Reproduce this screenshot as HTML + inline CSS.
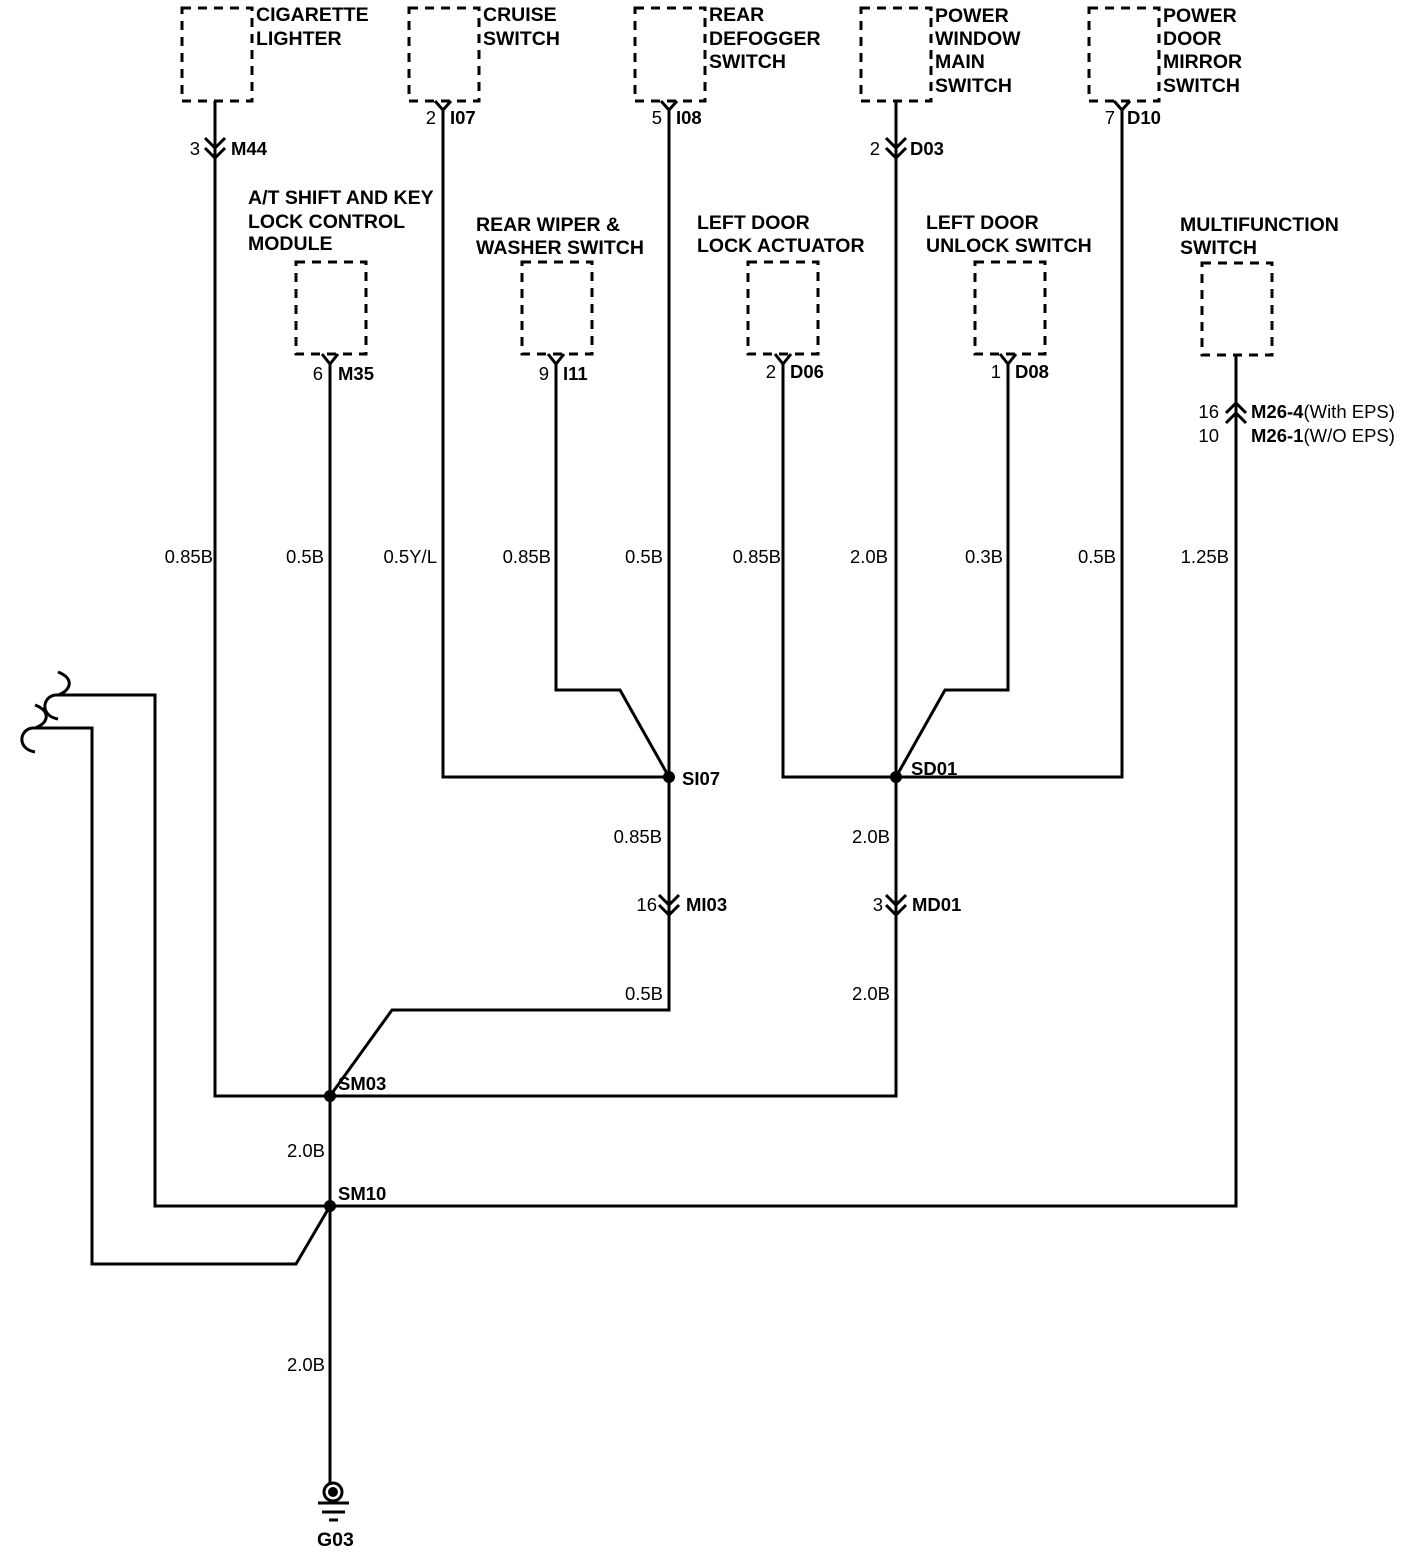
<!DOCTYPE html>
<html><head><meta charset="utf-8"><style>
html,body{margin:0;padding:0;background:#fff}
svg{display:block}
.t{font-family:"Liberation Sans",sans-serif;font-weight:bold;font-size:19.5px;fill:#000}
.w{font-family:"Liberation Sans",sans-serif;font-size:18.5px;fill:#000}
.c{font-family:"Liberation Sans",sans-serif;font-weight:bold;font-size:18.5px;fill:#000}
</style></head><body>
<svg width="1408" height="1554" viewBox="0 0 1408 1554" xmlns="http://www.w3.org/2000/svg">
<g fill="none" stroke="#000" stroke-width="3" stroke-dasharray="9,7">
<rect x="182" y="8" width="70" height="93"/>
<rect x="409" y="8" width="70" height="93"/>
<rect x="635" y="8" width="70" height="93"/>
<rect x="861" y="8" width="70" height="93"/>
<rect x="1089" y="8" width="70" height="93"/>
<rect x="296" y="262" width="70" height="92"/>
<rect x="522" y="262" width="70" height="92"/>
<rect x="748" y="262" width="70" height="92"/>
<rect x="975" y="262" width="70" height="92"/>
<rect x="1202" y="263" width="70" height="92"/>
</g>
<g fill="none" stroke="#000" stroke-width="3" stroke-linejoin="miter">
<path d="M215 101V1096H896V905"/>
<path d="M443 110V777H669"/>
<path d="M669 110V1010H392L330 1096"/>
<path d="M896 101V1096"/>
<path d="M1122 110V777H783V364"/>
<path d="M330 364V1485"/>
<path d="M556 364V690H620L669 777"/>
<path d="M1008 364V690H945L896 777"/>
<path d="M1236 355V1206H155V695H55"/>
<path d="M330 1206L296 1264H92V728H32"/>
<path d="M435 101L443 110L451 101M661 101L669 110L677 101M1114 101L1122 110L1130 101"/>
<path d="M322 354L330 364L338 354M548 354L556 364L564 354M775 354L783 364L791 354M1000 354L1008 364L1016 354"/>
<path d="M205 138L215 148L225 138M205 148L215 158L225 148"/>
<path d="M886 138L896 148L906 138M886 148L896 158L906 148"/>
<path d="M659 895L669 905L679 895M659 905L669 915L679 905"/>
<path d="M886 895L896 905L906 895M886 905L896 915L906 905"/>
<path d="M1226 413L1236 403L1246 413M1226 423L1236 413L1246 423"/>
<path d="M58 695C72 690 74 678 58 672M55 695C42 697 40 716 58 719"/>
<path d="M35 728C49 723 51 711 35 705M32 728C19 730 17 749 35 752"/>
<circle cx="333" cy="1492" r="9"/>
<path d="M318 1503H349M322 1512H345"/>
<path d="M329 1520H338"/>
</g>
<circle cx="333" cy="1492" r="5" fill="#000"/>
<g fill="#000">
<circle cx="669" cy="777" r="6"/>
<circle cx="896" cy="777" r="6"/>
<circle cx="330" cy="1096" r="6"/>
<circle cx="330" cy="1206" r="6"/>
</g>
<g class="t">
<text x="256" y="21">CIGARETTE</text><text x="256" y="45">LIGHTER</text>
<text x="483" y="21">CRUISE</text><text x="483" y="45">SWITCH</text>
<text x="709" y="21">REAR</text><text x="709" y="45">DEFOGGER</text><text x="709" y="68">SWITCH</text>
<text x="935" y="22">POWER</text><text x="935" y="45">WINDOW</text><text x="935" y="68">MAIN</text><text x="935" y="92">SWITCH</text>
<text x="1163" y="22">POWER</text><text x="1163" y="45">DOOR</text><text x="1163" y="68">MIRROR</text><text x="1163" y="92">SWITCH</text>
<text x="248" y="204">A/T SHIFT AND KEY</text><text x="248" y="228">LOCK CONTROL</text><text x="248" y="250">MODULE</text>
<text x="476" y="231">REAR WIPER &amp;</text><text x="476" y="254">WASHER SWITCH</text>
<text x="697" y="229">LEFT DOOR</text><text x="697" y="252">LOCK ACTUATOR</text>
<text x="926" y="229">LEFT DOOR</text><text x="926" y="252">UNLOCK SWITCH</text>
<text x="1180" y="231">MULTIFUNCTION</text><text x="1180" y="254">SWITCH</text>
<text x="317" y="1546">G03</text>
</g>
<g class="c">
<text x="231" y="155">M44</text>
<text x="450" y="124">I07</text>
<text x="676" y="124">I08</text>
<text x="910" y="155">D03</text>
<text x="1127" y="124">D10</text>
<text x="338" y="380">M35</text>
<text x="563" y="380">I11</text>
<text x="790" y="378">D06</text>
<text x="1015" y="378">D08</text>
<text x="682" y="785">SI07</text>
<text x="911" y="775">SD01</text>
<text x="686" y="911">MI03</text>
<text x="912" y="911">MD01</text>
<text x="338" y="1090">SM03</text>
<text x="338" y="1200">SM10</text>
<text x="1251" y="418">M26-4<tspan style="font-weight:normal">(With EPS)</tspan></text>
<text x="1251" y="442">M26-1<tspan style="font-weight:normal">(W/O EPS)</tspan></text>
</g>
<g class="w" text-anchor="end">
<text x="200" y="155">3</text>
<text x="436" y="124">2</text>
<text x="662" y="124">5</text>
<text x="880" y="155">2</text>
<text x="1115" y="124">7</text>
<text x="323" y="380">6</text>
<text x="549" y="380">9</text>
<text x="776" y="378">2</text>
<text x="1001" y="378">1</text>
<text x="1219" y="418">16</text>
<text x="1219" y="442">10</text>
<text x="213" y="563">0.85B</text>
<text x="324" y="563">0.5B</text>
<text x="437" y="563">0.5Y/L</text>
<text x="551" y="563">0.85B</text>
<text x="663" y="563">0.5B</text>
<text x="781" y="563">0.85B</text>
<text x="888" y="563">2.0B</text>
<text x="1003" y="563">0.3B</text>
<text x="1116" y="563">0.5B</text>
<text x="1229" y="563">1.25B</text>
<text x="662" y="843">0.85B</text>
<text x="890" y="843">2.0B</text>
<text x="657" y="911">16</text>
<text x="883" y="911">3</text>
<text x="663" y="1000">0.5B</text>
<text x="890" y="1000">2.0B</text>
<text x="325" y="1157">2.0B</text>
<text x="325" y="1371">2.0B</text>
</g>
</svg>
</body></html>
